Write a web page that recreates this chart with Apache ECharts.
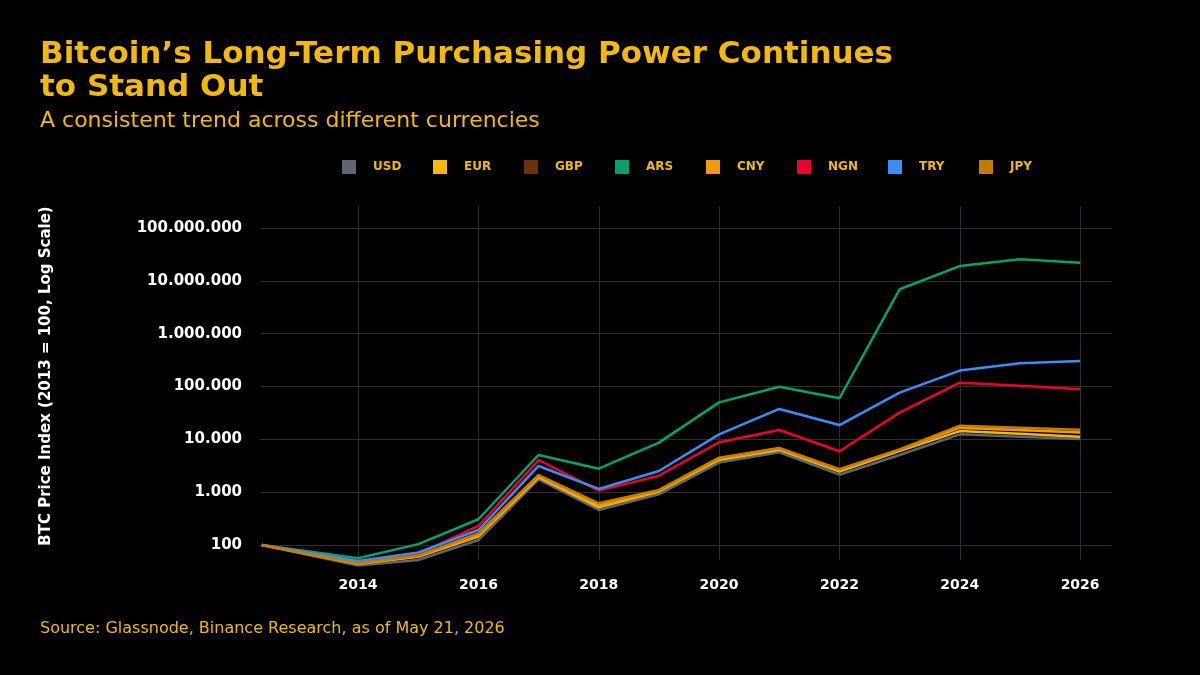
<!DOCTYPE html>
<html>
<head>
<meta charset="utf-8">
<title>Bitcoin purchasing power</title>
<script src="https://cdn.jsdelivr.net/npm/echarts@6/dist/echarts.min.js"></script>
<style>
  html, body { margin: 0; padding: 0; background: #000; }
  #chartBody { width: 1200px; height: 675px; }
</style>
</head>
<body>
<div id="chartBody"></div>
<script>
// x positions (first point sits a little before 2013 on the axis)
var years = [2012.4, 2014, 2015, 2016, 2017, 2018, 2019, 2020, 2021, 2022, 2023, 2024, 2025, 2026];
var yearTicks = [2014, 2016, 2018, 2020, 2022, 2024, 2026];

var usd = [100, 41, 52, 124, 1740, 460, 910, 3630, 5690, 2140, 5040, 12400, 11200, 10100];
var eur = [100, 44, 60, 145, 1910, 516, 1020, 4060, 6300, 2440, 6000, 14300, 12700, 11200];
var gbp = [100, 45, 63, 165, 2100, 600, 1080, 4400, 6800, 2700, 6400, 16200, 14900, 13600];
var ars = [100, 56, 104, 307, 5060, 2780, 8650, 50000, 99000, 59800, 6900000, 19000000, 25600000, 21900000];
var cny = [100, 44, 61, 150, 2000, 560, 1050, 4300, 6600, 2600, 6300, 16600, 15000, 13400];
var ngn = [100, 48, 67, 229, 4060, 1067, 2050, 8800, 15000, 5930, 32000, 118000, 103500, 89000];
var tryl = [100, 50, 72, 192, 3130, 1150, 2510, 12400, 37500, 18600, 76400, 200000, 276000, 303000];
var jpy = [100, 45, 63, 165, 2110, 615, 1100, 4490, 6850, 2710, 6460, 18100, 16600, 15200];

var names = ['USD', 'EUR', 'GBP', 'ARS', 'CNY', 'NGN', 'TRY', 'JPY'];
var colors = ['#5E6673', '#F0B90B', '#6A3209', '#03A16C', '#F39A0B', '#EC002C', '#3D8DF6', '#C27C00'];
var values = [usd, eur, gbp, ars, cny, ngn, tryl, jpy];

function pairs(arr) {
    var res = [];
    for (var i = 0; i < arr.length; i++) {
        res.push([years[i], arr[i]]);
    }
    return res;
}

function dotted(v) {
    return String(Math.round(v)).replace(/\B(?=(\d{3})+(?!\d))/g, '.');
}

function drawChart() {
    var dom = document.getElementById('chartBody');
    var myChart = echarts.init(dom, null, { renderer: 'canvas' });
    var yellow = '#F0B90B';
    var font = '"DejaVu Sans", sans-serif';

    var series = [];
    var legends = [];
    for (var i = 0; i < names.length; i++) {
        series.push({
            name: names[i],
            type: 'line',
            data: pairs(values[i]),
            symbol: 'none',
            clip: false,
            lineStyle: { width: 2.5, color: colors[i] },
            itemStyle: { color: colors[i] }
        });
        // one legend per item so every entry sits on a fixed 91px step
        legends.push({
            data: [names[i]],
            left: 342 + 91 * i,
            top: 160,
            padding: 0,
            icon: 'rect',
            itemWidth: 14,
            itemHeight: 14,
            textStyle: { color: yellow, fontFamily: font, fontWeight: 'bold', fontSize: 12, padding: [0, 0, 0, 12] }
        });
    }

    var option = {
        backgroundColor: '#000',
        animation: false,
        title: [
            {
                text: 'Bitcoin\u2019s Long-Term Purchasing Power Continues\nto Stand Out',
                left: 40,
                top: 38,
                padding: 0,
                textStyle: { color: yellow, fontFamily: font, fontWeight: 'bold', fontSize: 31, lineHeight: 33 }
            },
            {
                text: 'A consistent trend across different currencies',
                left: 40,
                top: 110,
                padding: 0,
                textStyle: { color: yellow, fontFamily: font, fontWeight: 'normal', fontSize: 22 }
            },
            {
                text: 'Source: Glassnode, Binance Research, as of May 21, 2026',
                left: 40,
                top: 621,
                padding: 0,
                textStyle: { color: yellow, fontFamily: font, fontWeight: 'normal', fontSize: 16 }
            }
        ],
        legend: legends,
        grid: { left: 260, right: 88, top: 206, bottom: 115, containLabel: false },
        xAxis: {
            type: 'value',
            min: 2012.37,
            max: 2026.53,
            axisLine: { show: false },
            axisTick: { show: false, customValues: yearTicks },
            axisLabel: {
                customValues: yearTicks,
                color: '#fff',
                fontFamily: font,
                fontWeight: 'bold',
                fontSize: 14,
                margin: 18,
                formatter: function (v) { return String(v); }
            },
            splitLine: { show: true, lineStyle: { color: '#2B2F36', width: 1 } }
        },
        yAxis: {
            type: 'log',
            logBase: 10,
            min: 52,
            max: 260000000,
            name: 'BTC Price Index (2013 = 100, Log Scale)',
            nameLocation: 'middle',
            nameGap: 206,
            nameTextStyle: { color: '#fff', fontFamily: font, fontWeight: 'bold', fontSize: 15, padding: [0, 0, 0, 14] },
            axisLine: { show: false },
            axisTick: { show: false },
            axisLabel: {
                color: '#fff',
                fontFamily: font,
                fontWeight: 'bold',
                fontSize: 15,
                margin: 18,
                showMinLabel: false,
                showMaxLabel: false,
                formatter: dotted
            },
            splitLine: { show: true, showMinLine: false, showMaxLine: false, lineStyle: { color: '#2B2F36', width: 1 } }
        },
        series: series
    };
    if (option && typeof option === 'object') {
        myChart.setOption(option, true);
    }
}
drawChart();
</script>
</body>
</html>
